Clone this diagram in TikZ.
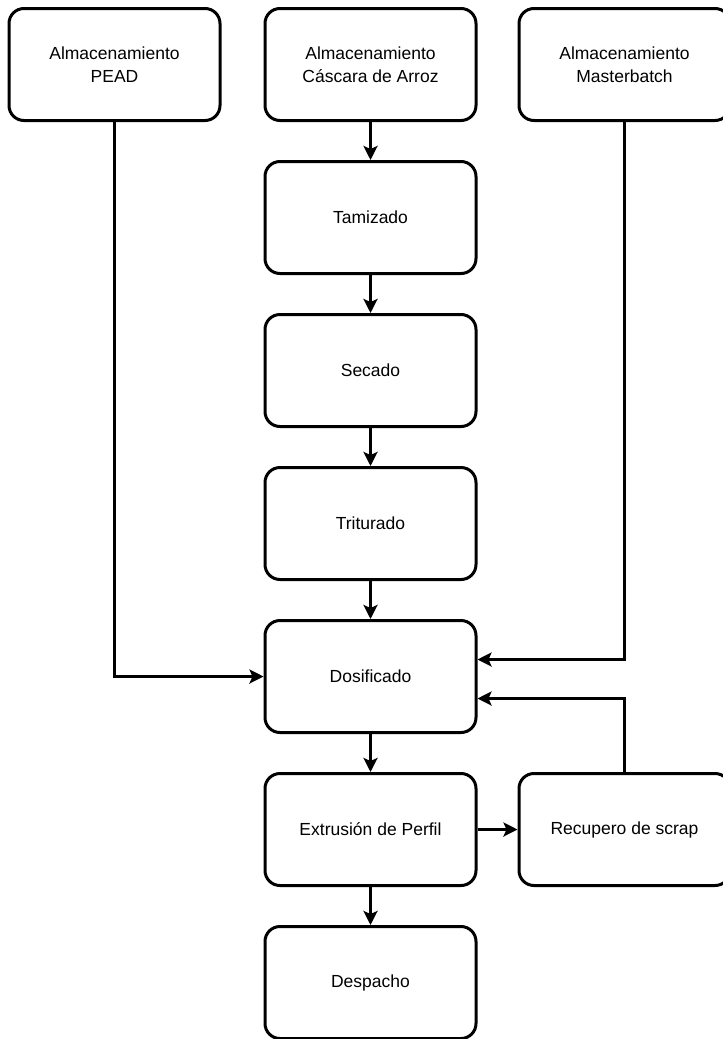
\documentclass[tikz,border=0pt]{standalone}
\usepackage{fontspec}
\setmainfont{Liberation Sans}
\usetikzlibrary{positioning,arrows.meta}
\tikzset{
  etapa/.style={draw, line width=3pt, rounded corners=15pt, fill=white,
    minimum width=211pt, minimum height=112pt, align=center,
    font=\fontsize{17.5}{23}\selectfont},
  flujo/.style={line width=3pt, -{Stealth[length=14pt,width=14pt,inset=3pt]}}
}
\begin{document}
\begin{tikzpicture}[x=1pt, y=1pt, node distance=38pt]
    \useasboundingbox (0,0) rectangle (723,-1039);
    \node(Cascara)[etapa] at (370.5,-64.5)		{Almacenamiento\\C\'ascara de Arroz};
    \node(Pead)		[etapa, left=42pt of Cascara]	{Almacenamiento\\PEAD};
    \node(Master)	[etapa, right=40pt of Cascara]	{Almacenamiento\\Masterbatch};
    \node(Tamizado)	[etapa, below=of Cascara]	{Tamizado};
    \node(Secado)	[etapa, below=of Tamizado]	{Secado};
    \node(Triturado)	[etapa, below=of Secado]	{Triturado};
    \node(Dosificado)	[etapa, below=of Triturado]	{Dosificado};
    \node(Extrusion)	[etapa, below=of Dosificado]	{Extrusi\'on de Perfil};
    \node(Recupero)	[etapa, right=40pt of Extrusion]	{Recupero de scrap};
    \node(Despacho)	[etapa, below=of Extrusion]	{Despacho};
    \draw[flujo](Cascara)	-- (Tamizado);
    \draw[flujo](Tamizado)	-- (Secado);
    \draw[flujo](Secado)	-- (Triturado);
    \draw[flujo](Triturado)	-- (Dosificado);
    \draw[flujo](Dosificado)	-- (Extrusion);
    \draw[flujo](Extrusion)	-- (Despacho);
    \draw[flujo](Extrusion)	-- (Recupero);
    \draw[flujo](Pead)		|- (Dosificado);
    \draw[flujo](Master)	|- ([yshift=17pt]Dosificado.east);
    \draw[flujo](Recupero)	|- ([yshift=-22pt]Dosificado.east);
  \end{tikzpicture}
\end{document}
